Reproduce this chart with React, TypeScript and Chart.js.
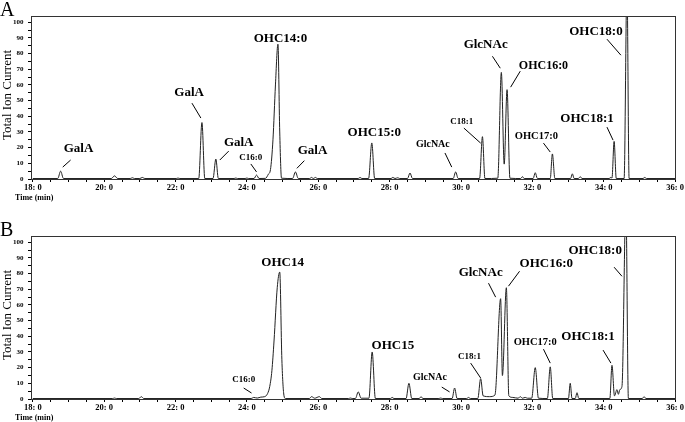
import React, { useEffect, useRef } from "react";
import { Chart, registerables } from "chart.js";

Chart.register(...registerables);

const FONT = "'Liberation Serif', 'Times New Roman', serif";

// Time axis (min) tick labels
const X_MAJOR = [18, 20, 22, 24, 26, 28, 30, 32, 34, 36];
const Y_MAJOR = [0, 10, 20, 30, 40, 50, 60, 70, 80, 90, 100];

// Panel A trace: [time (min), relative abundance]
const traceA: [number, number][] = [
  [18.0, 0.3], [18.7, 0.3], [18.78, 5], [18.86, 0.3],
  [20.2, 0.3], [20.29, 2], [20.38, 0.3],
  [20.73, 0.3], [20.79, 0.8], [20.85, 0.3],
  [21.0, 0.3], [21.07, 1], [21.14, 0.3],
  [22.02, 0.3], [22.07, 0.6], [22.12, 0.3],
  [22.65, 0.3], [22.74, 36], [22.82, 0.3],
  [23.05, 0.3], [23.13, 12.7], [23.2, 0.3],
  [23.64, 0.3], [23.69, 0.6], [23.74, 0.3],
  [23.95, 0.3], [24.0, 0.6], [24.05, 0.3],
  [24.2, 0.3], [24.27, 2.5], [24.34, 0.3],
  [24.52, 0.4], [24.6, 3], [24.66, 6], [24.73, 25], [24.8, 60], [24.87, 86], [24.92, 30], [24.97, 0.5],
  [25.28, 0.3], [25.36, 4.5], [25.44, 0.3],
  [25.76, 0.3], [25.81, 1], [25.86, 0.3], [25.92, 1], [25.97, 0.3],
  [27.12, 0.3], [27.17, 1], [27.22, 0.3],
  [27.41, 0.3], [27.5, 23], [27.58, 0.3],
  [28.04, 0.3], [28.09, 1], [28.15, 0.3], [28.23, 0.8], [28.28, 0.3],
  [28.5, 0.3], [28.57, 3.8], [28.64, 0.3],
  [29.78, 0.3], [29.85, 4.5], [29.92, 0.3],
  [30.52, 0.3], [30.6, 27], [30.67, 0.3],
  [31.03, 0.5], [31.13, 68], [31.21, 9.5], [31.29, 57], [31.37, 0.5],
  [31.67, 0.3], [31.72, 1.5], [31.77, 0.3],
  [32.02, 0.3], [32.08, 4], [32.14, 0.3],
  [32.5, 0.3], [32.56, 16], [32.63, 0.3],
  [33.07, 0.3], [33.12, 3.3], [33.17, 0.3],
  [33.29, 0.3], [33.34, 1.5], [33.39, 0.3],
  [34.15, 0.3], [34.2, 1], [34.23, 0.6], [34.29, 24], [34.35, 0.3],
  [34.57, 0.3], [34.65, 125], [34.71, 0.3],
  [35.1, 0.3], [35.15, 1], [35.2, 0.3],
  [36.0, 0.3],
];

// Panel B trace
const traceB: [number, number][] = [
  [18.0, 0.3], [20.24, 0.3], [20.29, 0.6], [20.34, 0.3],
  [20.97, 0.3], [21.04, 1.5], [21.11, 0.3],
  [24.12, 0.3], [24.19, 1], [24.29, 0.6], [24.39, 1.2], [24.5, 1.5],
  [24.58, 3.5], [24.64, 8], [24.7, 18], [24.76, 37], [24.85, 71], [24.92, 81], [24.98, 25], [25.04, 2], [25.08, 0.3],
  [25.75, 0.3], [25.81, 1.5], [25.9, 0.5], [26.03, 1.5], [26.1, 0.3],
  [26.85, 0.3], [26.9, 0.6], [26.95, 0.3],
  [27.04, 0.3], [27.12, 4.5], [27.2, 0.5],
  [27.42, 0.5], [27.51, 30], [27.6, 0.3],
  [28.02, 0.3], [28.07, 1], [28.12, 0.3],
  [28.46, 0.3], [28.54, 10], [28.62, 0.3],
  [28.83, 0.3], [28.88, 1.5], [28.93, 0.3],
  [29.38, 0.3], [29.43, 0.6], [29.48, 0.3],
  [29.75, 0.3], [29.82, 7], [29.89, 0.3],
  [30.16, 0.3], [30.21, 1], [30.26, 0.3],
  [30.47, 0.3], [30.55, 13], [30.62, 2], [30.8, 1.5], [30.95, 2.5],
  [31.11, 64], [31.16, 15], [31.27, 71], [31.34, 2],
  [31.45, 1], [31.6, 0.5], [31.66, 1.5], [31.72, 0.5], [31.8, 1], [31.86, 0.5],
  [31.98, 0.5], [32.08, 20], [32.17, 0.5],
  [32.42, 0.3], [32.5, 20.5], [32.57, 0.3],
  [33.01, 0.3], [33.06, 10], [33.11, 0.3],
  [33.2, 0.3], [33.25, 4], [33.3, 0.3],
  [34.17, 0.3], [34.23, 21.5], [34.3, 2], [34.37, 6], [34.41, 3], [34.45, 6], [34.51, 8], [34.62, 125], [34.69, 0.3],
  [35.08, 0.3], [35.13, 1.5], [35.18, 0.3],
  [36.0, 0.3],
];

// Peak labels: text, anchor (time, abundance), font size, leader line [t1, v1, t2, v2]
const labelsA = ["GalA", "GalA", "GalA", "C16:0", "OHC14:0", "GalA", "OHC15:0", "GlcNAc", "C18:1", "GlcNAc", "OHC16:0", "OHC17:0", "OHC18:1", "OHC18:0"];
const labelTimeA = [19.28, 22.38, 23.77, 24.11, 24.94, 25.84, 27.57, 29.21, 30.02, 30.69, 32.31, 32.11, 33.53, 33.78];
const labelIonA = [19.1, 54.8, 22.9, 13.4, 89.8, 17.8, 29.3, 22.3, 36.3, 86, 72, 27.4, 38.2, 94.3];
const labelSizeA = [13, 13, 13, 9, 13, 13, 13, 10, 9, 13, 12, 10.5, 13, 13];
const leadersA: (number[] | null)[] = [
  [18.84, 7.6, 19.06, 12.1],
  [22.46, 48.4, 22.71, 38.9],
  [23.24, 12.1, 23.49, 17.8],
  [24.11, 9.6, 24.27, 4.5],
  null,
  [25.4, 6.8, 25.61, 11.7],
  null,
  [29.55, 16.6, 29.74, 7.6],
  [30.08, 32.5, 30.55, 22.9],
  [30.88, 78.3, 31.1, 70.7],
  [31.66, 68.8, 31.39, 58.6],
  [32.31, 22.9, 32.5, 17.2],
  [34.09, 33.1, 34.26, 24.8],
  [34.09, 89.2, 34.48, 79],
];

const labelsB = ["C16:0", "OHC14", "OHC15", "GlcNAc", "C18:1", "GlcNAc", "OHC16:0", "OHC17:0", "OHC18:1", "OHC18:0"];
const labelTimeB = [23.91, 25.0, 28.09, 29.13, 30.24, 30.55, 32.39, 32.08, 33.56, 33.76];
const labelIonB = [12.1, 87.3, 33.8, 14, 26.8, 80.9, 86.6, 36.3, 39.5, 94.9];
const labelSizeB = [9, 13, 13, 10, 9, 13, 13, 10.5, 13, 13];
const leadersB: (number[] | null)[] = [
  [23.91, 7, 24.13, 3.8],
  null,
  null,
  [29.46, 7.6, 29.68, 4.5],
  [30.27, 22.9, 30.55, 13.4],
  [30.77, 73.9, 30.97, 65],
  [31.64, 81.5, 31.33, 72],
  [32.31, 31.8, 32.5, 22.9],
  [33.98, 31.2, 34.2, 22.9],
  [34.29, 84.1, 34.51, 78.3],
];

type Panel = {
  letter: string;
  trace: [number, number][];
  labels: string[];
  times: number[];
  ions: number[];
  sizes: number[];
  leaders: (number[] | null)[];
  height: number;
};

function makeOverlay(p: Panel) {
  return {
    id: "overlay" + p.letter,
    afterDraw(chart: any) {
      const { ctx, chartArea: a, scales } = chart;
      const x = scales.x;
      const y = scales.y;
      ctx.save();
      // frame
      ctx.strokeStyle = "#333";
      ctx.lineWidth = 1;
      ctx.strokeRect(Math.round(a.left) + 0.5, Math.round(a.top) + 0.5, Math.round(a.right - a.left) - 1, Math.round(a.bottom - a.top));
      // peak labels
      ctx.fillStyle = "#000";
      ctx.textAlign = "center";
      ctx.textBaseline = "middle";
      p.labels.forEach((txt, i) => {
        ctx.font = `bold ${p.sizes[i]}px ${FONT}`;
        ctx.fillText(txt, x.getPixelForValue(p.times[i]), y.getPixelForValue(p.ions[i]));
        const l = p.leaders[i];
        if (l) {
          ctx.beginPath();
          ctx.strokeStyle = "#000";
          ctx.lineWidth = 1;
          ctx.moveTo(x.getPixelForValue(l[0]), y.getPixelForValue(l[1]));
          ctx.lineTo(x.getPixelForValue(l[2]), y.getPixelForValue(l[3]));
          ctx.stroke();
        }
      });
      // y title
      ctx.save();
      ctx.translate(11, 95);
      ctx.rotate(-Math.PI / 2);
      ctx.font = `13px ${FONT}`;
      ctx.textAlign = "center";
      ctx.textBaseline = "alphabetic";
      ctx.fillText("Total Ion Current", 0, 0);
      ctx.restore();
      // x title
      ctx.font = `bold 8px ${FONT}`;
      ctx.textAlign = "left";
      ctx.textBaseline = "middle";
      ctx.fillText("Time (min)", 15, 198);
      // panel letter
      ctx.font = `20px ${FONT}`;
      ctx.textBaseline = "alphabetic";
      ctx.fillText(p.letter, 0, 16);
      ctx.restore();
    },
  };
}

function makeConfig(p: Panel): any {
  return {
    type: "line",
    data: {
      datasets: [
        {
          data: p.trace.map(([t, v]) => ({ x: t, y: v })),
          borderColor: "#222",
          borderWidth: 1,
          pointRadius: 0,
          fill: false,
          cubicInterpolationMode: "monotone",
          clip: 0,
        },
      ],
    },
    options: {
      animation: false,
      responsive: false,
      events: [],
      layout: { padding: { top: 16, right: 4, left: 0, bottom: 0 }, autoPadding: false },
      plugins: { legend: { display: false }, tooltip: { enabled: false } },
      scales: {
        x: {
          type: "linear",
          min: 17.95,
          max: 36.02,
          afterFit: (s: any) => { s.height = p.height - 179; },
          afterBuildTicks: (s: any) => {
            const t: any[] = [];
            for (let v = X_MAJOR[0]; v <= X_MAJOR[X_MAJOR.length - 1] + 1e-9; v += 0.5) t.push({ value: v });
            s.ticks = t;
          },
          border: { display: false },
          grid: { drawOnChartArea: false, drawTicks: true, tickLength: 3, color: "#000", lineWidth: 1 },
          ticks: {
            autoSkip: false,
            maxRotation: 0,
            padding: 1,
            color: "#000",
            font: { family: FONT, size: 8.5, weight: "bold" },
            callback: (v: number) => (X_MAJOR.includes(v) ? `${v}: 0` : ""),
          },
        },
        y: {
          type: "linear",
          min: 0,
          max: 104,
          afterFit: (s: any) => { s.width = 31; },
          afterBuildTicks: (s: any) => {
            const t: any[] = [];
            for (let v = 0; v <= Y_MAJOR[Y_MAJOR.length - 1]; v += 5) t.push({ value: v });
            s.ticks = t;
          },
          border: { display: false },
          grid: { drawOnChartArea: false, drawTicks: true, tickLength: 3, color: "#000", lineWidth: 1 },
          ticks: {
            autoSkip: false,
            padding: 4.5,
            color: "#000",
            font: { family: FONT, size: 7, weight: "bold" },
            callback: (v: number) => (Y_MAJOR.includes(v) ? String(v) : ""),
          },
        },
      },
    },
    plugins: [makeOverlay(p)],
  };
}

const panelA: Panel = { letter: "A", trace: traceA, labels: labelsA, times: labelTimeA, ions: labelIonA, sizes: labelSizeA, leaders: leadersA, height: 220 };
const panelB: Panel = { letter: "B", trace: traceB, labels: labelsB, times: labelTimeB, ions: labelIonB, sizes: labelSizeB, leaders: leadersB, height: 202 };

function ChromPanel({ panel, top }: { panel: Panel; top: number }) {
  const ref = useRef<HTMLCanvasElement | null>(null);
  useEffect(() => {
    if (!ref.current) return;
    const chart = new Chart(ref.current, makeConfig(panel));
    return () => chart.destroy();
  }, [panel]);
  return (
    <canvas
      ref={ref}
      width={685}
      height={panel.height}
      style={{ position: "absolute", left: 0, top, width: 685, height: panel.height, display: "block" }}
    />
  );
}

export default function App() {
  return (
    <div style={{ position: "fixed", left: 0, top: 0, width: 685, height: 422, background: "#fff", overflow: "hidden" }}>
      <ChromPanel panel={panelA} top={0} />
      <ChromPanel panel={panelB} top={220} />
    </div>
  );
}
